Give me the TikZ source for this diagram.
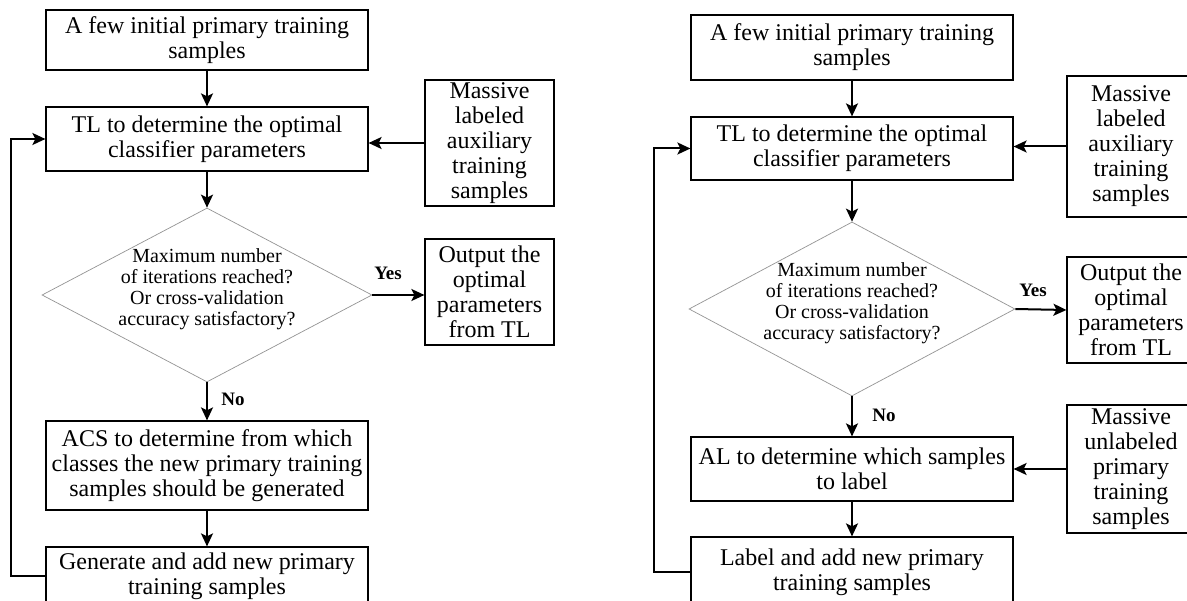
\documentclass[tikz,border=0pt]{standalone}
\usepackage{fontspec}
\setmainfont{Liberation Serif}
\usetikzlibrary{arrows.meta,shapes.geometric}

\begin{document}
\begin{tikzpicture}[x=1pt,y=1pt,yscale=-1,
  box/.style={draw,line width=1.2pt,align=center,inner sep=1pt,minimum width=322pt,font=\fontsize{24}{25}\selectfont},
  sidebox/.style={box,minimum width=129pt},
  decision/.style={draw=gray!85,line width=0.7pt,diamond,inner sep=0pt,minimum width=#1,minimum height=174pt},
  question/.style={align=center,inner sep=0pt,font=\fontsize{20}{21}\selectfont},
  answer/.style={inner sep=0pt,font=\bfseries\fontsize{19}{21}\selectfont},
  flow/.style={-{Stealth[length=13pt,width=12pt,inset=3pt]},line width=2pt}]
\useasboundingbox (0,0) rectangle (1187,601);
\clip (0,0) rectangle (1187,601);

% left chart
\node[box,minimum height=60pt] (initL) at (207,40) {A few initial primary training\\samples};
\node[box,minimum height=64pt] (tlL) at (207,139) {TL to determine the optimal\\classifier parameters};
\node[sidebox,minimum height=126pt] (auxL) at (489.5,143) {Massive\\labeled\\auxiliary\\training\\samples};
\node[decision=330pt] (decL) at (207,295) {};
\node[question] (qL) at (207,289) {Maximum number\\of iterations reached?\\Or cross-validation\\accuracy satisfactory?};
\node[sidebox,minimum height=106pt] (outL) at (489.5,292) {Output the\\optimal\\parameters\\from TL};
\node[box,minimum height=89pt] (acsL) at (207,465.5) {ACS to determine from which\\classes the new primary training\\samples should be generated};
\node[box,minimum height=58pt] (genL) at (207,576) {Generate and add new primary\\training samples};
\node[answer] (yesL) at (388,273) {Yes};
\node[answer] (noL) at (233,399) {No};

\draw[flow] (initL) -- (tlL);
\draw[flow] (auxL.west) -- (tlL.east |- auxL.west);
\draw[flow] (tlL) -- (decL);
\draw[flow] (decL.east) -- (decL.east -| outL.west);
\draw[flow] (decL) -- (acsL);
\draw[flow] (acsL) -- (genL);
\draw[flow] (genL.west) -- ++(-34,0) |- (tlL.west);

% right chart
\node[box,minimum height=65pt] (initR) at (852,47.5) {A few initial primary training\\samples};
\node[box,minimum height=63pt] (tlR) at (852,148.5) {TL to determine the optimal\\classifier parameters};
\node[sidebox,minimum height=141pt,minimum width=128pt] (auxR) at (1131,146.5) {Massive\\labeled\\auxiliary\\training\\samples};
\node[decision=326pt] (decR) at (852,309) {};
\node[question] (qR) at (852,303) {Maximum number\\of iterations reached?\\Or cross-validation\\accuracy satisfactory?};
\node[sidebox,minimum height=106pt,minimum width=128pt] (outR) at (1131,310) {Output the\\optimal\\parameters\\from TL};
\node[box,minimum height=64pt] (alR) at (852,469) {AL to determine which samples\\to label};
\node[sidebox,minimum height=128pt,minimum width=128pt] (unlR) at (1131,469) {Massive\\unlabeled\\primary\\training\\samples};
\node[box,minimum height=70pt] (lblR) at (852,572) {Label and add new primary\\training samples};
\node[answer] (yesR) at (1033,290) {Yes};
\node[answer] (noR) at (884,415) {No};

\draw[flow] (initR) -- (tlR);
\draw[flow] (auxR.west) -- (tlR.east |- auxR.west);
\draw[flow] (tlR) -- (decR);
\draw[flow] (decR.east) -- (outR.west);
\draw[flow] (decR) -- (alR);
\draw[flow] (unlR.west) -- (alR.east |- unlR.west);
\draw[flow] (alR) -- (lblR);
\draw[flow] (lblR.west) -- ++(-36,0) |- (tlR.west);
\end{tikzpicture}
\end{document}
